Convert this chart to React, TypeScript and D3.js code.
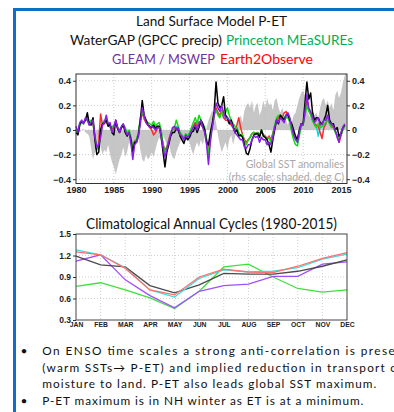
import React, { useEffect, useRef } from 'react';
import * as d3 from 'd3';

// quarterly P-ET anomalies starting 1980.0 (step 0.25 yr)
const startYear = 1980;

const waterGapPET = [
  -0.02, -0.04, 0.05, 0.07, // 1980
  0.06, 0.08, 0.14, 0.05,
  0.04, 0.10, -0.08, -0.20,
  -0.18, 0.00, 0.05, 0.06,
  0.08, 0.03, 0.05, -0.02,
  -0.04, 0.08, 0.01, -0.02, // 1985
  0.02, 0.04, -0.02, -0.05,
  -0.02, -0.08, -0.18, -0.10,
  -0.10, -0.04, 0.08, 0.24,
  0.12, 0.08, 0.04, 0.03,
  0.02, 0.04, 0.01, 0.03, // 1990
  0.03, -0.05, -0.18, -0.30,
  -0.18, -0.12, -0.05, -0.02,
  -0.02, 0.01, 0.00, -0.05,
  -0.08, -0.11, -0.06, -0.08,
  -0.06, -0.02, -0.01, 0.03, // 1995
  -0.02, 0.02, 0.08, 0.05,
  0.00, -0.10, -0.12, -0.02,
  0.05, 0.15, 0.39, 0.22,
  0.18, 0.20, 0.27, 0.12,
  0.10, 0.05, 0.08, 0.03, // 2000
  -0.02, 0.00, -0.05, -0.04,
  -0.06, -0.12, -0.19, -0.20,
  -0.15, -0.08, -0.04, -0.03,
  -0.03, -0.06, 0.00, -0.05,
  -0.06, -0.08, -0.12, -0.18, // 2005
  -0.08, 0.00, 0.08, 0.05,
  0.12, 0.10, 0.08, 0.12,
  0.13, 0.08, 0.05, 0.00,
  -0.05, -0.08, 0.00, 0.05,
  0.05, 0.22, 0.39, 0.25, // 2010
  0.30, 0.14, 0.08, 0.10,
  0.10, 0.06, 0.05, 0.08,
  0.12, 0.20, 0.08, 0.05,
  0.05, 0.00, 0.02, -0.05,
  -0.03, 0.02, 0.04 // 2015
];

const princetonPET = [
  0.00, -0.03, 0.04, 0.06,
  0.05, 0.08, 0.10, 0.05,
  0.08, 0.06, -0.05, -0.15,
  -0.15, -0.02, 0.05, 0.08,
  0.08, 0.04, 0.02, 0.02,
  0.04, 0.06, 0.02, 0.00,
  0.02, 0.04, 0.02, -0.03,
  0.00, -0.06, -0.16, -0.10,
  -0.08, -0.02, 0.10, 0.15,
  0.10, 0.08, 0.06, 0.05,
  0.04, 0.07, 0.03, 0.05,
  0.06, 0.00, -0.12, -0.18,
  -0.15, -0.10, -0.04, 0.00,
  0.02, 0.08, 0.03, -0.02,
  -0.04, -0.06, -0.03, -0.05,
  -0.02, 0.02, 0.06, 0.10,
  0.05, 0.12, 0.08, 0.05,
  0.02, -0.08, -0.20, -0.06,
  0.04, 0.14, 0.16, 0.12,
  0.10, 0.15, 0.12, 0.14,
  0.18, 0.12, 0.08, 0.05,
  0.03, 0.02, -0.02, -0.05,
  -0.04, -0.10, -0.12, -0.08,
  -0.06, -0.03, -0.02, -0.04,
  -0.02, -0.04, 0.00, -0.05,
  -0.06, -0.08, -0.06, -0.10,
  -0.04, 0.04, 0.10, 0.12,
  0.12, 0.10, 0.08, 0.10,
  0.10, 0.06, -0.02, -0.08,
  -0.12, -0.13, -0.05, 0.03,
  0.04, 0.12, 0.20, 0.15,
  0.12, 0.08, 0.04, 0.02,
  0.05, 0.02, 0.03, 0.05,
  0.06, 0.10, 0.05, 0.02,
  0.02, -0.02, -0.04, -0.06,
  -0.04, 0.00, 0.03
];

const gleamPET = [
  0.03, -0.02, 0.06, 0.08,
  0.05, 0.10, 0.08, 0.04,
  0.06, 0.08, -0.06, -0.14,
  -0.12, -0.06, 0.04, 0.06,
  0.12, 0.05, 0.06, -0.02,
  0.02, 0.08, 0.02, -0.02,
  0.03, 0.05, 0.00, -0.04,
  -0.02, -0.10, -0.24, -0.12,
  -0.10, -0.05, 0.05, 0.18,
  0.12, 0.06, 0.04, 0.02,
  0.03, 0.02, 0.00, 0.02,
  0.02, -0.05, -0.14, -0.22,
  -0.16, -0.10, -0.04, 0.02,
  0.03, 0.00, 0.02, -0.04,
  -0.05, -0.08, -0.04, -0.06,
  -0.04, -0.01, 0.02, 0.04,
  0.00, 0.05, 0.08, 0.02,
  -0.02, -0.12, -0.28, -0.10,
  0.02, 0.12, 0.22, 0.18,
  0.15, 0.20, 0.14, 0.10,
  0.10, 0.08, 0.06, 0.02,
  -0.02, -0.04, -0.06, -0.08,
  -0.08, -0.14, -0.15, -0.12,
  -0.12, -0.08, -0.05, -0.06,
  -0.05, -0.10, -0.06, -0.08,
  -0.08, -0.12, -0.10, -0.12,
  -0.06, 0.02, 0.08, 0.06,
  0.10, 0.08, 0.06, 0.12,
  0.14, 0.10, 0.02, -0.04,
  -0.08, -0.10, -0.02, 0.05,
  0.04, 0.15, 0.29, 0.18,
  0.15, 0.10, 0.06, 0.08,
  0.10, 0.04, 0.05, 0.08,
  0.08, 0.12, 0.06, 0.05,
  0.03, 0.00, -0.06, -0.10,
  -0.02, 0.02, 0.05
];

const e2oPET = [
  0.00, -0.03, 0.04, 0.06,
  0.06, 0.08, 0.09, 0.04,
  0.06, 0.05, -0.06, -0.16,
  -0.10, 0.13, 0.04, 0.05,
  0.07, 0.04, 0.03, 0.01,
  0.03, 0.07, 0.01, -0.02,
  0.02, 0.04, 0.00, -0.04,
  -0.01, -0.07, -0.15, -0.09,
  -0.08, -0.03, 0.08, 0.14,
  0.09, 0.06, 0.04, 0.02,
  0.00, -0.04, -0.02, 0.01,
  0.03, -0.03, -0.12, -0.16,
  -0.14, -0.08, -0.03, 0.00,
  0.01, 0.02, 0.00, -0.03,
  -0.05, -0.07, -0.04, -0.05,
  -0.03, 0.00, 0.03, 0.06,
  0.03, 0.06, 0.05, 0.02,
  0.00, -0.08, -0.16, -0.05,
  0.03, 0.12, 0.18, 0.14,
  0.12, 0.16, 0.10, 0.08,
  0.08, 0.06, 0.04, 0.02,
  0.00, 0.04, 0.10, 0.02,
  -0.04, -0.08, -0.10, -0.08,
  -0.06, -0.03, -0.02, -0.03,
  -0.02, -0.04, -0.01, -0.04,
  -0.05, -0.07, -0.05, -0.08,
  -0.03, 0.03, 0.08, 0.10,
  0.12, 0.10, 0.14, 0.15,
  0.12, 0.08, 0.02, -0.03,
  -0.06, -0.07, -0.02, 0.04,
  0.05, 0.14, 0.25, 0.16,
  0.14, 0.08, 0.05, 0.04,
  0.03, -0.02, -0.07, 0.02,
  0.05, 0.10, 0.06, 0.04,
  0.02, -0.01, -0.05, -0.10,
  -0.05, 0.01, 0.04
];

const otherPET = [
  0.01, -0.02, 0.05, 0.07,
  0.06, 0.09, 0.08, 0.05,
  0.07, 0.06, -0.07, -0.15,
  -0.14, -0.04, 0.06, 0.07,
  0.07, 0.04, 0.03, 0.02,
  0.03, 0.06, 0.02, -0.01,
  0.02, 0.04, 0.01, -0.03,
  -0.01, -0.06, -0.15, -0.09,
  -0.08, -0.03, 0.08, 0.14,
  0.10, 0.06, 0.04, 0.03,
  0.02, 0.02, 0.01, 0.02,
  0.03, -0.02, -0.12, -0.17,
  -0.14, -0.09, -0.03, 0.00,
  0.01, 0.03, 0.01, -0.03,
  -0.05, -0.07, -0.04, -0.05,
  -0.03, 0.00, 0.03, 0.06,
  0.03, 0.07, 0.05, 0.02,
  0.00, -0.08, -0.18, -0.05,
  0.03, 0.12, 0.17, 0.14,
  0.11, 0.15, 0.10, 0.09,
  0.10, 0.07, 0.05, 0.02,
  0.00, 0.01, -0.03, -0.05,
  -0.05, -0.09, -0.11, -0.08,
  -0.06, -0.03, -0.02, -0.03,
  -0.02, -0.04, -0.01, -0.04,
  -0.05, -0.07, -0.05, -0.08,
  -0.03, 0.03, 0.08, 0.10,
  0.10, 0.08, 0.10, 0.12,
  0.11, 0.07, 0.01, -0.04,
  -0.07, -0.08, -0.02, 0.04,
  0.05, 0.14, 0.24, 0.16,
  0.13, 0.08, 0.05, 0.03,
  -0.05, 0.02, 0.03, 0.04,
  0.05, 0.09, 0.05, 0.03,
  0.02, -0.01, -0.04, -0.07,
  -0.04, 0.01, 0.04
];

// global SST anomalies (deg C), quarterly from 1980.0
const sstAnom = [
  0.00, -0.01, -0.02, 0.00,
  0.01, -0.02, -0.03, -0.05,
  -0.15, -0.24, -0.18, -0.12,
  -0.08, -0.14, -0.20, -0.16,
  -0.18, -0.12, -0.20, -0.26,
  -0.30, -0.36, -0.30, -0.24,
  -0.20, -0.14, -0.22, -0.18,
  -0.10, -0.14, -0.22, -0.12,
  -0.10, -0.06, -0.16, -0.24,
  -0.26, -0.20, -0.24, -0.22,
  -0.18, -0.22, -0.16, -0.10,
  -0.06, -0.10, -0.04, -0.08,
  -0.12, -0.08, -0.18, -0.22,
  -0.24, -0.18, -0.14, -0.10,
  -0.06, -0.10, -0.04, -0.08,
  -0.10, -0.16, -0.20, -0.14,
  -0.10, -0.14, -0.08, -0.12,
  -0.06, 0.02, 0.08, 0.12,
  0.16, 0.12, 0.06, -0.04,
  -0.12, -0.18, -0.14, -0.10,
  -0.16, -0.08, -0.04, -0.12,
  -0.06, 0.02, 0.08, 0.12,
  0.06, 0.16, 0.20, 0.22,
  0.18, 0.24, 0.14, 0.20,
  0.22, 0.12, 0.16, 0.24,
  0.18, 0.26, 0.20, 0.22,
  0.16, 0.24, 0.26, 0.18,
  0.14, 0.18, 0.12, 0.08,
  0.04, 0.10, 0.06, 0.12,
  0.14, 0.20, 0.26, 0.30,
  0.32, 0.28, 0.16, 0.12,
  0.10, 0.16, 0.12, 0.14,
  0.10, 0.18, 0.24, 0.26,
  0.20, 0.24, 0.18, 0.22,
  0.16, 0.28, 0.32, 0.26,
  0.30, 0.38, 0.44, 0.48
];

const yearTicks = [1980, 1985, 1990, 1995, 2000, 2005, 2010, 2015];
const anomTicks = [-0.4, -0.2, 0, 0.2, 0.4];

// climatological annual cycles
const months = ['JAN', 'FEB', 'MAR', 'APR', 'MAY', 'JUN', 'JUL', 'AUG', 'SEP', 'OCT', 'NOV', 'DEC'];
const cycleOther = [1.28, 1.21, 1.03, 0.72, 0.62, 0.88, 1.00, 0.97, 0.98, 1.03, 1.15, 1.22];
const cycleE2O = [1.25, 1.21, 1.02, 0.72, 0.65, 0.90, 1.01, 0.97, 0.96, 1.05, 1.16, 1.24];
const cycleWaterGap = [1.19, 1.07, 1.04, 0.78, 0.68, 0.79, 0.95, 0.94, 0.94, 0.98, 1.05, 1.14];
const cycleGleam = [1.12, 1.21, 0.86, 0.64, 0.47, 0.70, 0.78, 0.80, 0.91, 0.91, 1.08, 1.11];
const cyclePrinceton = [0.77, 0.82, 0.72, 0.61, 0.46, 0.70, 1.04, 1.08, 0.90, 0.74, 0.69, 0.72];
const cycleTicks = [0.3, 0.6, 0.9, 1.2, 1.5];

const bullets = [
  { bullet: true, text: 'On ENSO time scales a strong anti-correlation is present', len: 366 },
  { bullet: false, text: '(warm SSTs\u2192 P-ET) and implied reduction in transport of', len: 360 },
  { bullet: false, text: 'moisture to land.  P-ET also leads global SST maximum.', len: 334 },
  { bullet: true, text: 'P-ET maximum is in NH winter as ET is at a minimum.', len: 321 }
];

const slideFont = 'Lato, "Open Sans", sans-serif';
const axisFont = '"Liberation Sans", Arial, sans-serif';

export default function App() {
  const svgRef = useRef<SVGSVGElement>(null);

  useEffect(() => {
    if (!svgRef.current) return;
    document.body.style.margin = '0';
    const svg = d3.select(svgRef.current);
    svg.selectAll('*').remove();

    // slide frame
    svg.append('line').attr('x1', 14.5).attr('x2', 14.5).attr('y1', 8).attr('y2', 412)
      .attr('stroke', '#0f6fc6').attr('stroke-width', 3);
    svg.append('line').attr('x1', 13).attr('x2', 394).attr('y1', 9.5).attr('y2', 9.5)
      .attr('stroke', '#0f6fc6').attr('stroke-width', 3);

    // titles
    const title = (txt: string, x: number, y: number, len: number, color: string, size = 14) =>
      svg.append('text').attr('x', x).attr('y', y).attr('fill', color)
        .attr('textLength', len).attr('lengthAdjust', 'spacingAndGlyphs')
        .style('font-family', slideFont).style('font-size', `${size}px`).text(txt);
    title('Land Surface Model P-ET', 136, 26, 151, '#111');
    title('WaterGAP (GPCC precip)', 70, 45, 152, '#111');
    title('Princeton MEaSUREs', 226, 45, 127, '#00b050');
    title('GLEAM / MSWEP', 112, 63.5, 103, '#7030a0');
    title('Earth2Observe', 220, 63.5, 93, '#ff0000');

    // ---- time series panel ----
    const x = d3.scaleLinear().domain([1980, 2015.8]).range([76, 347]);
    const y = d3.scaleLinear().domain([-0.435, 0.455]).range([183.5, 74]);
    const tOf = (i: number) => startYear + i * 0.25;

    const gTop = svg.append('g');
    gTop.append('clipPath').attr('id', 'clipTop').append('rect')
      .attr('x', 76).attr('y', 74).attr('width', 271).attr('height', 109.5);

    gTop.append('path')
      .datum(sstAnom)
      .attr('clip-path', 'url(#clipTop)')
      .attr('fill', '#c6c6c6')
      .attr('d', d3.area<number>().x((d, i) => x(tOf(i))).y0(y(0)).y1(d => y(d)));

    // grid
    gTop.selectAll('.vg').data(yearTicks.slice(1, -1)).enter().append('line')
      .attr('x1', d => x(d)).attr('x2', d => x(d)).attr('y1', 74).attr('y2', 183.5)
      .attr('stroke', '#bdbdbd').attr('stroke-width', 0.8).attr('stroke-dasharray', '1,2');
    gTop.selectAll('.hg').data(anomTicks).enter().append('line')
      .attr('x1', 76).attr('x2', 347).attr('y1', d => y(d)).attr('y2', d => y(d))
      .attr('stroke', '#bdbdbd').attr('stroke-width', 0.8).attr('stroke-dasharray', '1,2');

    const series = [
      { values: otherPET, color: '#00dede' },
      { values: e2oPET, color: '#ff2a2a' },
      { values: princetonPET, color: '#10dd10' },
      { values: waterGapPET, color: '#000000' },
      { values: gleamPET, color: '#8a1ee6' }
    ];
    const line = d3.line<number>().x((d, i) => x(tOf(i))).y(d => y(d));
    series.forEach(s => {
      gTop.append('path').datum(s.values)
        .attr('fill', 'none').attr('stroke', s.color).attr('stroke-width', 1.5)
        .attr('stroke-linejoin', 'round').attr('d', line);
    });

    gTop.append('rect').attr('x', 76).attr('y', 74).attr('width', 271).attr('height', 109.5)
      .attr('fill', 'none').attr('stroke', '#333').attr('stroke-width', 1);

    const fmt = (d: d3.NumberValue) => (+d === 0 ? '0' : d3.format('.1f')(+d));
    const styleAxis = (g: d3.Selection<SVGGElement, unknown, null, undefined>, size: number) => {
      g.select('.domain').remove();
      g.selectAll('.tick line').attr('stroke', '#333');
      g.selectAll('.tick text').attr('fill', '#222')
        .style('font-family', axisFont).style('font-size', `${size}px`).style('font-weight', 'bold');
    };

    const yl = gTop.append('g').attr('transform', 'translate(76,0)')
      .call(d3.axisLeft(y).tickValues(anomTicks).tickSize(3).tickPadding(2).tickFormat(fmt));
    styleAxis(yl, 9);
    const yr = gTop.append('g').attr('transform', 'translate(347,0)')
      .call(d3.axisRight(y).tickValues(anomTicks).tickSize(3).tickPadding(2).tickFormat(fmt));
    styleAxis(yr, 9);
    const xb = gTop.append('g').attr('transform', 'translate(0,183.5)')
      .call(d3.axisBottom(x).tickValues(yearTicks).tickSize(0).tickPadding(3).tickFormat(d3.format('d')));
    styleAxis(xb, 9);

    gTop.append('text').attr('x', 344).attr('y', 168).attr('text-anchor', 'end')
      .attr('fill', '#a8a8a8').style('font-family', slideFont).style('font-size', '10.5px')
      .text('Global SST anomalies');
    gTop.append('text').attr('x', 344).attr('y', 181).attr('text-anchor', 'end')
      .attr('fill', '#a8a8a8').style('font-family', slideFont).style('font-size', '10.5px')
      .text('(rhs scale; shaded, deg C)');

    // ---- annual cycle panel ----
    title('Climatological Annual Cycles (1980-2015)', 86, 228.5, 251, '#111', 14.5);

    const xm = d3.scalePoint<string>().domain(months).range([76, 347]);
    const ym = d3.scaleLinear().domain([0.3, 1.5]).range([320, 234]);
    const gBot = svg.append('g');

    gBot.selectAll('.vg').data(months.slice(1, -1)).enter().append('line')
      .attr('x1', d => xm(d)!).attr('x2', d => xm(d)!).attr('y1', 234).attr('y2', 320)
      .attr('stroke', '#c4c4c4').attr('stroke-width', 0.8).attr('stroke-dasharray', '1,2');
    gBot.selectAll('.hg').data(cycleTicks.slice(1, -1)).enter().append('line')
      .attr('x1', 76).attr('x2', 347).attr('y1', d => ym(d)).attr('y2', d => ym(d))
      .attr('stroke', '#c4c4c4').attr('stroke-width', 0.8).attr('stroke-dasharray', '1,2');

    const cycles = [
      { values: cyclePrinceton, color: '#3ee03e' },
      { values: cycleGleam, color: '#a24dff' },
      { values: cycleWaterGap, color: '#4a4a4a' },
      { values: cycleOther, color: '#3fdcdc' },
      { values: cycleE2O, color: '#ff7070' }
    ];
    const cLine = d3.line<number>().x((d, i) => xm(months[i])!).y(d => ym(d));
    cycles.forEach(c => {
      gBot.append('path').datum(c.values)
        .attr('fill', 'none').attr('stroke', c.color).attr('stroke-width', 1.3).attr('d', cLine);
    });

    gBot.append('rect').attr('x', 76).attr('y', 234).attr('width', 271).attr('height', 86)
      .attr('fill', 'none').attr('stroke', '#444').attr('stroke-width', 1);

    const ymAxis = gBot.append('g').attr('transform', 'translate(76,0)')
      .call(d3.axisLeft(ym).tickValues(cycleTicks).tickSize(3).tickPadding(2).tickFormat(d3.format('.1f')));
    styleAxis(ymAxis, 8.5);
    const xmAxis = gBot.append('g').attr('transform', 'translate(0,320)')
      .call(d3.axisBottom(xm).tickSize(0).tickPadding(2));
    styleAxis(xmAxis, 6.8);

    // ---- bullet text ----
    bullets.forEach((b, i) => {
      const by = 355 + i * 16.7;
      if (b.bullet) {
        svg.append('text').attr('x', 20.5).attr('y', by).attr('fill', '#111')
          .style('font-family', slideFont).style('font-size', '12px').text('\u2022');
      }
      svg.append('text').attr('x', 42.3).attr('y', by).attr('fill', '#111')
        .attr('textLength', b.len).attr('lengthAdjust', 'spacing')
        .style('font-family', slideFont).style('font-size', '11.8px').text(b.text);
    });
  }, []);

  return (
    <svg ref={svgRef} width={394} height={412}
      style={{ display: 'block', background: '#fff', position: 'absolute', left: 0, top: 0 }} />
  );
}
